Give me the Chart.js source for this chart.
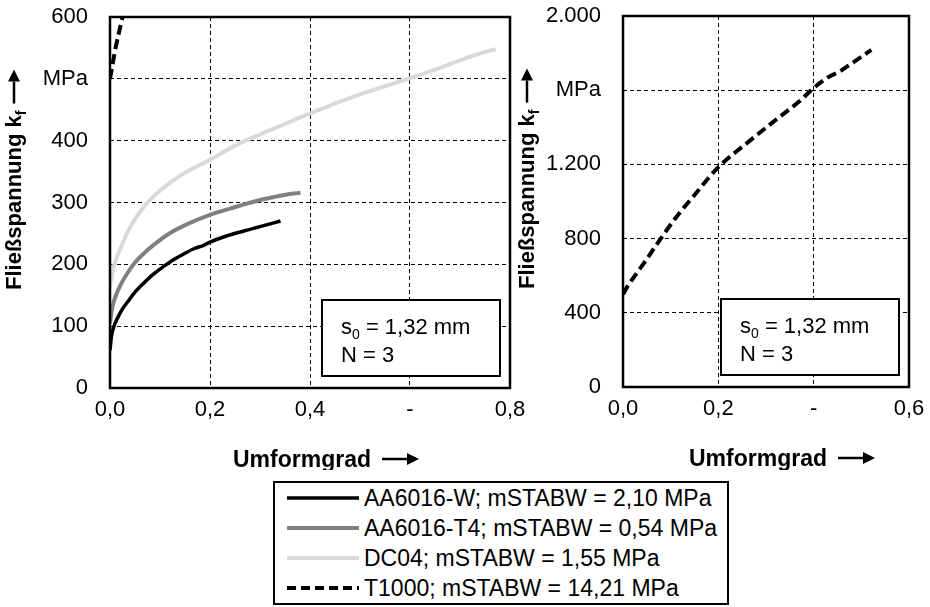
<!DOCTYPE html>
<html>
<head>
<meta charset="utf-8">
<script src="https://cdn.jsdelivr.net/npm/chart.js@4/dist/chart.umd.min.js"></script>
<style>
  body { margin: 0; background: #fff; font-family: "Liberation Sans", Arial, sans-serif; }
  #wrap { position: relative; width: 930px; height: 607px; overflow: hidden; }
  canvas { position: absolute; top: 0; }
  #leftChart { left: 0; }
  #rightChart { left: 500px; }
  #legend { position: absolute; left: 273px; top: 481px; border: 2px solid #000; padding: 0 10px 0 12px; background: #fff; }
  #legend .row { display: flex; align-items: center; height: 30px; font-size: 23px; color: #000; white-space: nowrap; }
  #legend svg { margin-right: 5px; }
</style>
</head>
<body>
<div id="wrap">
  <canvas id="leftChart" width="540" height="470"></canvas>
  <canvas id="rightChart" width="430" height="470"></canvas>
  <div id="legend"></div>
</div>
<script>
// Fließkurven — Umformgrad gegen Fließspannung
const seriesNames = [
  'AA6016-W; mSTABW = 2,10 MPa',
  'AA6016-T4; mSTABW = 0,54 MPa',
  'DC04; mSTABW = 1,55 MPa',
  'T1000; mSTABW = 14,21 MPa'
];

const aa6016wX = [0, 0.003, 0.008, 0.015, 0.025, 0.035, 0.05, 0.068, 0.085, 0.108, 0.13, 0.15, 0.17, 0.185, 0.2, 0.23, 0.268, 0.3, 0.341];
const aa6016wY = [61, 84, 100, 113, 128, 139, 155, 170, 183, 197, 209, 218, 226, 230, 236, 245, 254, 261, 270];

const aa6016t4X = [0, 0.004, 0.011, 0.022, 0.035, 0.05, 0.068, 0.09, 0.121, 0.16, 0.2, 0.24, 0.268, 0.3, 0.34, 0.381];
const aa6016t4Y = [105, 128, 148, 168, 186, 203, 218, 233, 251, 267, 280, 290, 297, 304, 311, 316];

const dc04X = [0, 0.005, 0.01, 0.018, 0.03, 0.041, 0.055, 0.07, 0.085, 0.1, 0.125, 0.15, 0.175, 0.2, 0.25, 0.3, 0.35, 0.4, 0.45, 0.5, 0.55, 0.6, 0.65, 0.7, 0.74, 0.771];
const dc04Y = [164, 188, 203, 220, 243, 261, 279, 295, 308, 319, 335, 348, 359, 369, 392, 410, 427, 444, 460, 475, 488, 501, 515, 530, 541, 548];

const t1000X = [0, 0.01, 0.025, 0.05, 0.077, 0.11, 0.147, 0.2, 0.259, 0.329, 0.37, 0.399, 0.427, 0.455, 0.482, 0.521];
const t1000Y = [500, 545, 600, 690, 792, 910, 1026, 1185, 1313, 1457, 1540, 1610, 1665, 1702, 1748, 1817];

// Achsen
const leftXTicks = [0, 0.2, 0.4, 0.6, 0.8];
const leftXLabels = ['0,0', '0,2', '0,4', '-', '0,8'];
const leftYTicks = [0, 100, 200, 300, 400, 500, 600];
const leftYLabels = ['0', '100', '200', '300', '400', 'MPa', '600'];

const rightXTicks = [0, 0.2, 0.4, 0.6];
const rightXLabels = ['0,0', '0,2', '-', '0,6'];
const rightYTicks = [0, 400, 800, 1200, 1600, 2000];
const rightYLabels = ['0', '400', '800', '1.200', 'MPa', '2.000'];

const noteLine1 = ['s', '0', ' = 1,32 mm'];
const noteLine2 = 'N = 3';
const xTitle = 'Umformgrad';
const yTitle = ['Fließspannung k', 'f'];

const lineStyles = [
  { color: '#000000', width: 3.5, dash: [] },
  { color: '#808080', width: 4, dash: [] },
  { color: '#d9d9d9', width: 4, dash: [] },
  { color: '#000000', width: 4, dash: [10, 5] }
];

const FONT = '"Liberation Sans", Arial, sans-serif';
Chart.defaults.font.family = FONT;
Chart.defaults.font.size = 22;
Chart.defaults.color = '#000';

function toPoints(xs, ys) {
  return xs.map((x, i) => ({ x: x, y: ys[i] }));
}

function makeDataset(i, xs, ys) {
  const s = lineStyles[i];
  return {
    label: seriesNames[i],
    data: toPoints(xs, ys),
    borderColor: s.color,
    borderWidth: s.width,
    borderDash: s.dash,
    pointRadius: 0,
    fill: false,
    cubicInterpolationMode: 'monotone'
  };
}

function makeScales(xTicks, xLabels, yTicks, yLabels, yWidth, xHeight) {
  return {
    x: {
      type: 'linear',
      min: xTicks[0],
      max: xTicks[xTicks.length - 1],
      afterBuildTicks: s => { s.ticks = xTicks.map(v => ({ value: v })); },
      afterFit: s => { s.height = xHeight; s.paddingLeft = 0; s.paddingRight = 0; },
      ticks: { callback: (v, i) => xLabels[i], padding: 9, maxRotation: 0, autoSkip: false },
      grid: { color: '#000', lineWidth: 1, drawTicks: false },
      border: { display: false, dash: [4, 3] }
    },
    y: {
      type: 'linear',
      min: yTicks[0],
      max: yTicks[yTicks.length - 1],
      afterBuildTicks: s => { s.ticks = yTicks.map(v => ({ value: v })); },
      afterFit: s => { s.width = yWidth; s.paddingTop = 0; s.paddingBottom = 0; },
      ticks: { callback: (v, i) => yLabels[i], padding: 22, autoSkip: false },
      grid: { color: '#000', lineWidth: 1, drawTicks: false },
      border: { display: false, dash: [4, 3] }
    }
  };
}

function drawArrow(ctx, x1, y1, x2, y2) {
  const ang = Math.atan2(y2 - y1, x2 - x1);
  const head = 12, half = 6;
  ctx.save();
  ctx.strokeStyle = '#000';
  ctx.fillStyle = '#000';
  ctx.lineWidth = 2.5;
  ctx.beginPath();
  ctx.moveTo(x1, y1);
  ctx.lineTo(x2 - Math.cos(ang) * head, y2 - Math.sin(ang) * head);
  ctx.stroke();
  ctx.beginPath();
  ctx.moveTo(x2, y2);
  ctx.lineTo(x2 - Math.cos(ang) * head - Math.sin(ang) * half, y2 - Math.sin(ang) * head + Math.cos(ang) * half);
  ctx.lineTo(x2 - Math.cos(ang) * head + Math.sin(ang) * half, y2 - Math.sin(ang) * head - Math.cos(ang) * half);
  ctx.closePath();
  ctx.fill();
  ctx.restore();
}

// Rahmen, Notizkasten und Achsentitel
const decor = {
  id: 'decor',
  afterDraw(chart) {
    const ctx = chart.ctx;
    const a = chart.chartArea;
    ctx.save();

    // Notizkasten
    const bw = 178, bh = 76;
    const bx = a.right - 10 - bw, by = a.bottom - 12 - bh;
    ctx.fillStyle = '#fff';
    ctx.fillRect(bx, by, bw, bh);
    ctx.strokeStyle = '#000';
    ctx.lineWidth = 2;
    ctx.strokeRect(bx, by, bw, bh);
    ctx.fillStyle = '#000';
    ctx.textBaseline = 'alphabetic';
    ctx.textAlign = 'left';
    let tx = bx + 19;
    const base1 = by + 34, base2 = by + 62;
    ctx.font = '22px ' + FONT;
    ctx.fillText(noteLine1[0], tx, base1);
    tx += ctx.measureText(noteLine1[0]).width;
    ctx.font = '14px ' + FONT;
    ctx.fillText(noteLine1[1], tx, base1 + 5);
    tx += ctx.measureText(noteLine1[1]).width;
    ctx.font = '22px ' + FONT;
    ctx.fillText(noteLine1[2], tx, base1);
    ctx.fillText(noteLine2, bx + 19, base2);

    // Rahmen
    ctx.lineWidth = 2.5;
    ctx.strokeRect(a.left, a.top, a.right - a.left, a.bottom - a.top);

    // x-Titel
    ctx.font = 'bold 23px ' + FONT;
    const cx = (a.left + a.right) / 2;
    const xs = cx - 77;
    ctx.fillText(xTitle, xs, a.bottom + 79);
    const xw = ctx.measureText(xTitle).width;
    drawArrow(ctx, xs + xw + 11, a.bottom + 71, xs + xw + 48, a.bottom + 71);

    // y-Titel
    ctx.translate(a.left - 89, a.top + 273);
    ctx.rotate(-Math.PI / 2);
    ctx.font = 'bold 22px ' + FONT;
    ctx.fillText(yTitle[0], 0, 0);
    let yw = ctx.measureText(yTitle[0]).width;
    ctx.font = 'bold 14px ' + FONT;
    ctx.fillText(yTitle[1], yw, 5);
    yw += ctx.measureText(yTitle[1]).width;
    drawArrow(ctx, yw + 7, -7, yw + 41, -7);

    ctx.restore();
  }
};

new Chart(document.getElementById('leftChart'), {
  type: 'line',
  data: {
    datasets: [
      makeDataset(0, aa6016wX, aa6016wY),
      makeDataset(1, aa6016t4X, aa6016t4Y),
      makeDataset(2, dc04X, dc04Y),
      makeDataset(3, t1000X, t1000Y)
    ]
  },
  options: {
    responsive: false,
    animation: false,
    layout: { padding: { top: 17, right: 30, left: 0, bottom: 0 } },
    scales: makeScales(leftXTicks, leftXLabels, leftYTicks, leftYLabels, 110, 82),
    plugins: { legend: { display: false }, tooltip: { enabled: false } }
  },
  plugins: [decor]
});

new Chart(document.getElementById('rightChart'), {
  type: 'line',
  data: {
    datasets: [makeDataset(3, t1000X, t1000Y)]
  },
  options: {
    responsive: false,
    animation: false,
    layout: { padding: { top: 16, right: 21, left: 0, bottom: 0 } },
    scales: makeScales(rightXTicks, rightXLabels, rightYTicks, rightYLabels, 123, 83),
    plugins: { legend: { display: false }, tooltip: { enabled: false } }
  },
  plugins: [decor]
});

// Legende
document.getElementById('legend').innerHTML = seriesNames.map((name, i) => {
  const s = lineStyles[i];
  const dash = s.dash.length ? `stroke-dasharray="9,5"` : '';
  return `<div class="row"><svg width="72" height="10"><line x1="0" y1="5" x2="72" y2="5" stroke="${s.color}" stroke-width="${s.width}" ${dash}/></svg><span>${name}</span></div>`;
}).join('');
</script>
</body>
</html>
